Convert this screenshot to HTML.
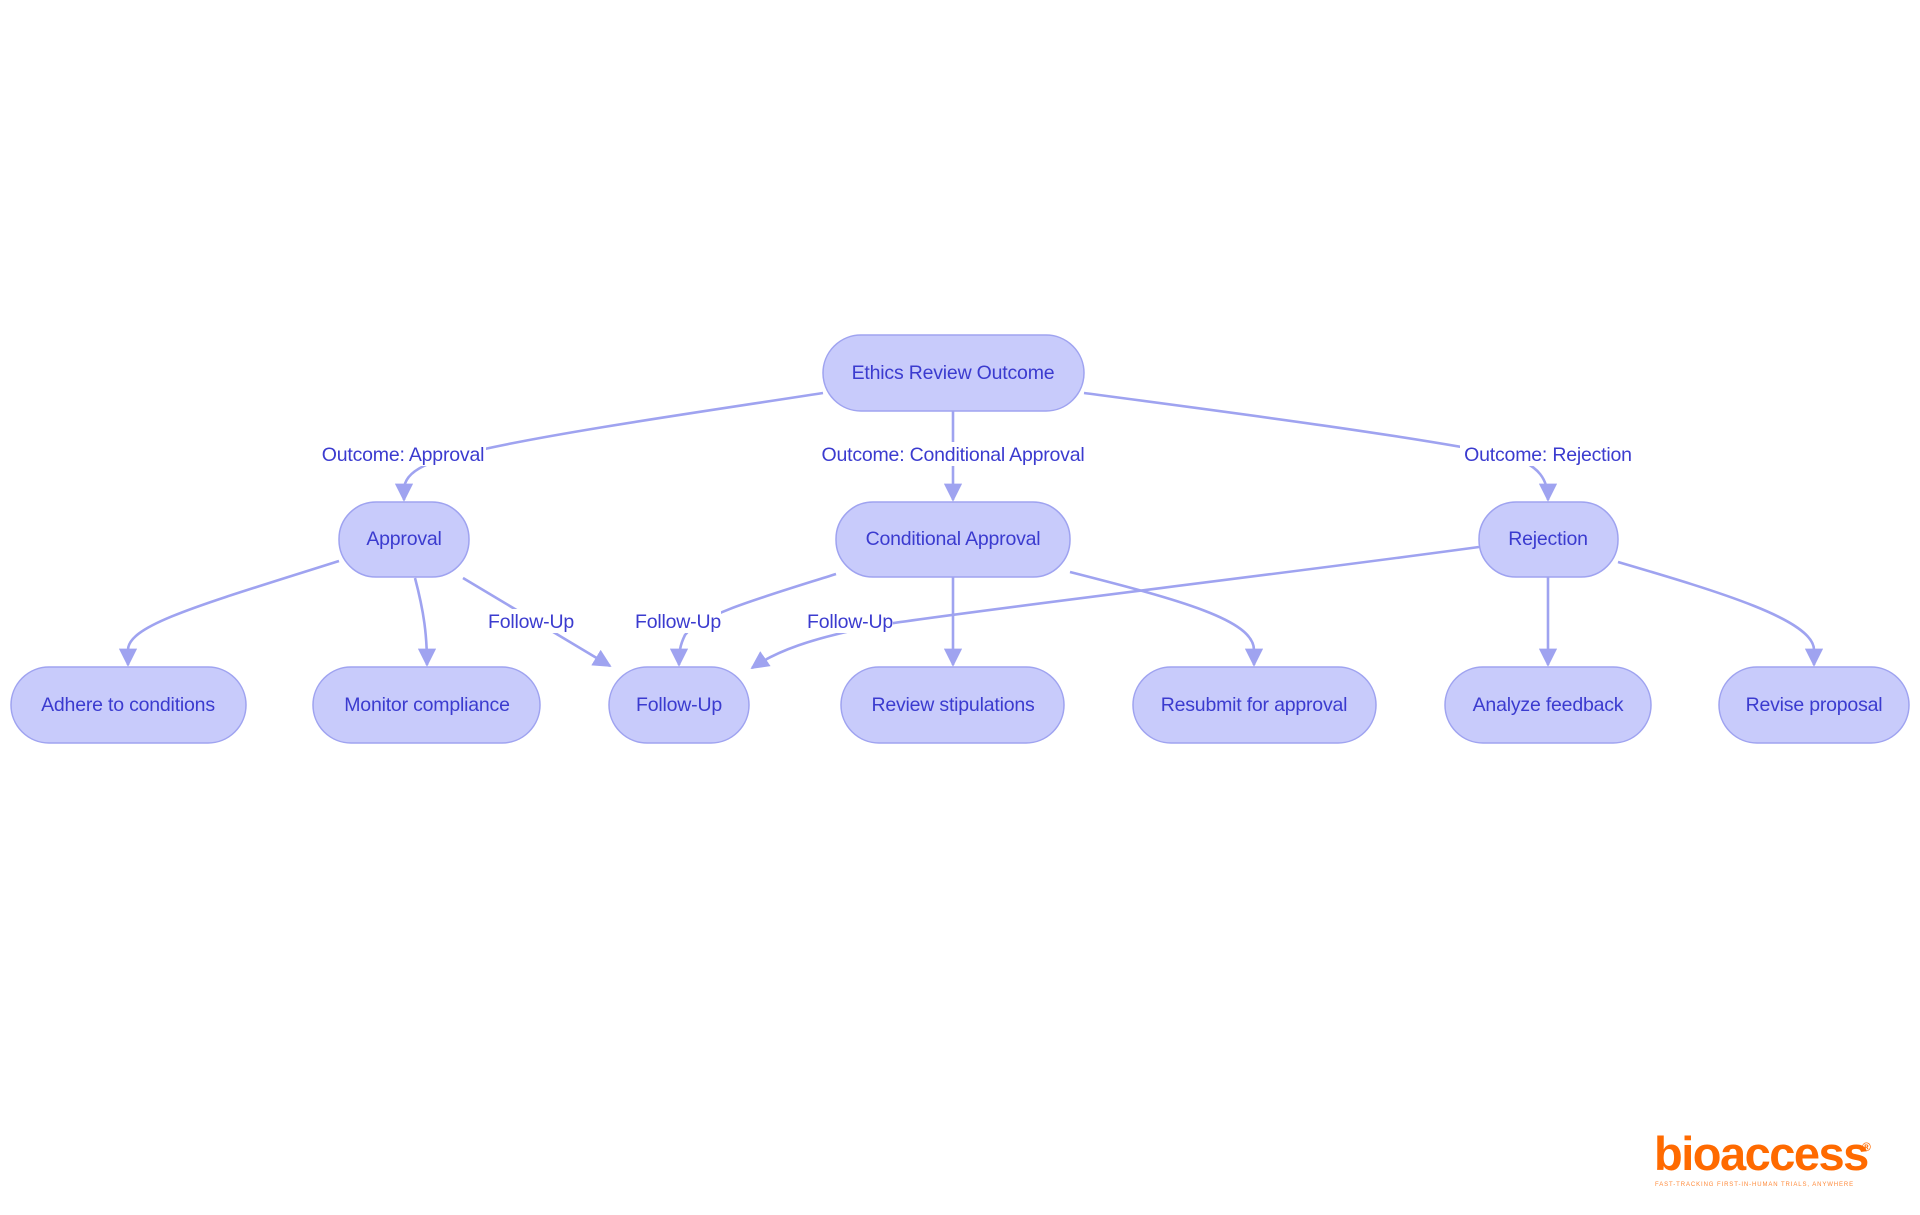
<!DOCTYPE html>
<html><head><meta charset="utf-8"><style>
html,body{margin:0;padding:0;background:#fff;}
svg{display:block;}
text{font-family:"Liberation Sans",sans-serif;}
</style></head><body>
<svg width="1920" height="1215" viewBox="0 0 1920 1215" xmlns="http://www.w3.org/2000/svg">
<defs>
<marker id="a" viewBox="0 0 10 10" refX="9" refY="5" markerWidth="7" markerHeight="7" orient="auto-start-reverse" markerUnits="strokeWidth">
<path d="M0,0 L10,5 L0,10 z" fill="#9fa3f0"/>
</marker>
</defs>
<g fill="none" stroke="#9fa3f0" stroke-width="2.6">
<path d="M823,393 C700,412 560,432 480,450 C430,460 404,470 404,490 L404,500" marker-end="url(#a)"/>
<path d="M953,411 L953,500" marker-end="url(#a)"/>
<path d="M1084,393 C1250,415 1410,436 1510,456 C1540,466 1548,480 1548,500" marker-end="url(#a)"/>
<path d="M339,561 C200,605 128,625 128,650 L128,665" marker-end="url(#a)"/>
<path d="M415,578 C424,612 427,635 427,665" marker-end="url(#a)"/>
<path d="M463,578 L610,666" marker-end="url(#a)"/>
<path d="M836,574 C760,598 700,615 685,635 C680,645 679,652 679,665" marker-end="url(#a)"/>
<path d="M1479,547 C1250,578 1000,607 880,625 C810,638 775,652 752,668" marker-end="url(#a)"/>
<path d="M953,577 L953,665" marker-end="url(#a)"/>
<path d="M1070,572 C1180,600 1254,620 1254,650 L1254,665" marker-end="url(#a)"/>
<path d="M1548,577 L1548,665" marker-end="url(#a)"/>
<path d="M1618,562 C1720,592 1814,620 1814,650 L1814,665" marker-end="url(#a)"/>
</g>
<g fill="#c8cbfb" stroke="#9fa3f0" stroke-width="1.5">
<rect x="823" y="335" width="261" height="76" rx="38"/>
<rect x="339" y="502" width="130" height="75" rx="37"/>
<rect x="836" y="502" width="234" height="75" rx="37"/>
<rect x="1479" y="502" width="139" height="75" rx="37"/>
<rect x="11" y="667" width="235" height="76" rx="38"/>
<rect x="313" y="667" width="227" height="76" rx="38"/>
<rect x="609" y="667" width="140" height="76" rx="38"/>
<rect x="841" y="667" width="223" height="76" rx="38"/>
<rect x="1133" y="667" width="243" height="76" rx="38"/>
<rect x="1445" y="667" width="206" height="76" rx="38"/>
<rect x="1719" y="667" width="190" height="76" rx="38"/>
</g>
<g fill="#fff">
<rect x="320" y="442" width="166" height="24"/>
<rect x="818" y="442" width="270" height="24"/>
<rect x="1460" y="442" width="176" height="24"/>
<rect x="488" y="609" width="86" height="24"/>
<rect x="635" y="609" width="86" height="24"/>
<rect x="807" y="609" width="86" height="24"/>
</g>
<g fill="#3b3bcf" font-size="19.5" text-anchor="middle" letter-spacing="-0.2">
<text x="953" y="379">Ethics Review Outcome</text>
<text x="404" y="545">Approval</text>
<text x="953" y="545">Conditional Approval</text>
<text x="1548" y="545">Rejection</text>
<text x="128" y="711">Adhere to conditions</text>
<text x="427" y="711">Monitor compliance</text>
<text x="679" y="711">Follow-Up</text>
<text x="953" y="711">Review stipulations</text>
<text x="1254" y="711">Resubmit for approval</text>
<text x="1548" y="711">Analyze feedback</text>
<text x="1814" y="711">Revise proposal</text>
<text x="403" y="461">Outcome: Approval</text>
<text x="953" y="461">Outcome: Conditional Approval</text>
<text x="1548" y="461">Outcome: Rejection</text>
<text x="531" y="628">Follow-Up</text>
<text x="678" y="628">Follow-Up</text>
<text x="850" y="628">Follow-Up</text>
</g>
<text x="1654" y="1170" fill="#ff6a00" font-size="47" font-weight="bold" letter-spacing="-1.5">bioaccess</text>
<text x="1862" y="1151" fill="#ff6a00" font-size="12" font-weight="bold">®</text>
<text x="1655" y="1186" fill="#ff8a3a" font-size="6" letter-spacing="0.9">FAST-TRACKING FIRST-IN-HUMAN TRIALS, ANYWHERE</text>
</svg>
</body></html>
